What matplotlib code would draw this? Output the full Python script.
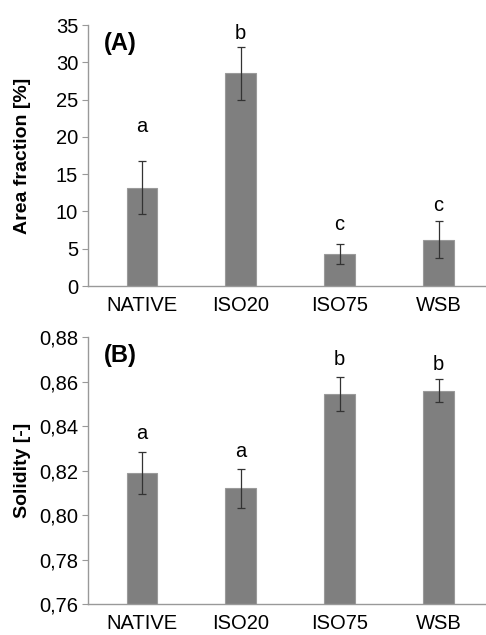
import matplotlib.pyplot as plt
import numpy as np

plt.rcParams['font.family'] = ['Liberation Sans', 'DejaVu Sans']

categories = ['NATIVE', 'ISO20', 'ISO75', 'WSB']

# Panel A: area fraction [%]
area_mean = [13.2, 28.5, 4.3, 6.2]
area_err = [3.6, 3.6, 1.4, 2.5]
area_letters = ['a', 'b', 'c', 'c']
area_letter_y = [21.4, 33.9, 8.2, 10.8]

# Panel B: solidity [-]
sol_mean = [0.819, 0.812, 0.8545, 0.856]
sol_err = [0.0096, 0.0087, 0.0077, 0.0052]
sol_letters = ['a', 'a', 'b', 'b']
sol_letter_y = [0.8368, 0.8285, 0.8701, 0.8679]

bar_color = '#7f7f7f'
spine_color = '#999999'

fig = plt.figure(figsize=(4.86, 6.35), dpi=100)
ax1 = fig.add_axes([0.181, 0.5496, 0.817, 0.411])
ax2 = fig.add_axes([0.181, 0.0488, 0.817, 0.420])

x = np.arange(len(categories))


def style_axis(ax):
    for side in ['top', 'right']:
        ax.spines[side].set_visible(False)
    for side in ['left', 'bottom']:
        ax.spines[side].set_color(spine_color)
        ax.spines[side].set_linewidth(1.0)
    ax.tick_params(axis='y', length=4, color=spine_color, labelsize=14.5, pad=3)
    ax.tick_params(axis='x', length=0, labelsize=14.5, pad=7)
    ax.set_xticks(x)
    ax.set_xticklabels(categories)
    ax.set_xlim(-0.545, 3.47)


ax1.bar(x, area_mean, width=0.31, color=bar_color, edgecolor='#9a9a9a', linewidth=0.8)
ax1.errorbar(x, area_mean, yerr=area_err, fmt='none', ecolor='#333333',
             elinewidth=0.9, capsize=3, capthick=0.9)
for xi, lab, ly in zip(x, area_letters, area_letter_y):
    ax1.text(xi, ly, lab, ha='center', va='center', fontsize=14.5)
ax1.set_ylim(0, 35)
ax1.set_yticks(np.arange(0, 36, 5))
style_axis(ax1)
ax1.set_ylabel('Area fraction [%]', fontsize=14, fontweight='bold')
ax1.yaxis.set_label_coords(-0.143, 0.5)
ax1.text(0.04, 0.93, '(A)', transform=ax1.transAxes, fontsize=17,
         fontweight='bold', va='center', ha='left')

ax2.bar(x, sol_mean, width=0.31, color=bar_color, edgecolor='#9a9a9a', linewidth=0.8)
ax2.errorbar(x, sol_mean, yerr=sol_err, fmt='none', ecolor='#333333',
             elinewidth=0.9, capsize=3, capthick=0.9)
for xi, lab, ly in zip(x, sol_letters, sol_letter_y):
    ax2.text(xi, ly, lab, ha='center', va='center', fontsize=14.5)
ax2.set_ylim(0.76, 0.88)
yt = np.arange(0.76, 0.881, 0.02)
ax2.set_yticks(yt)
ax2.set_yticklabels([f'{v:.2f}'.replace('.', ',') for v in yt])
style_axis(ax2)
ax2.set_ylabel('Solidity [-]', fontsize=14, fontweight='bold')
ax2.yaxis.set_label_coords(-0.143, 0.5)
ax2.text(0.04, 0.93, '(B)', transform=ax2.transAxes, fontsize=17,
         fontweight='bold', va='center', ha='left')

fig.savefig('out.png', dpi=100)
